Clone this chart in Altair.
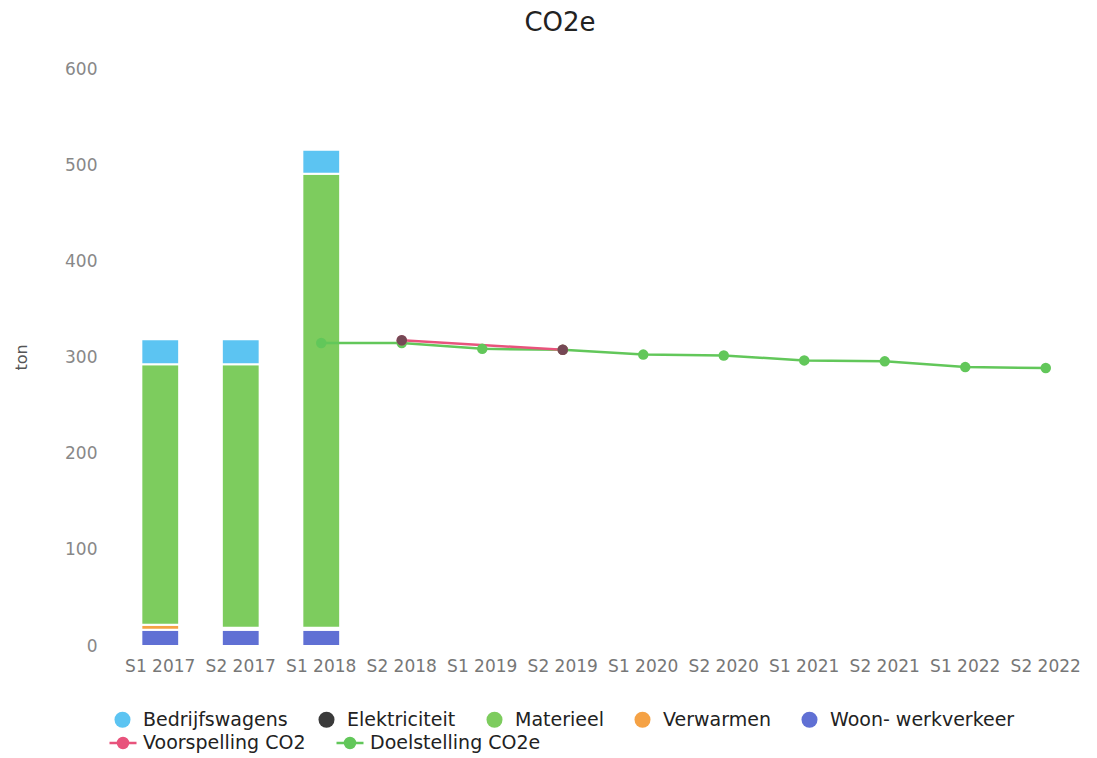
import altair as alt
import pandas as pd

periods = ["S1 2017", "S2 2017", "S1 2018", "S2 2018", "S1 2019", "S2 2019",
           "S1 2020", "S2 2020", "S1 2021", "S2 2021", "S1 2022", "S2 2022"]

# stacked bars (ton)
bar_periods = ["S1 2017", "S2 2017", "S1 2018"]
woon_werkverkeer = [17, 17, 17]
verwarmen = [5, 2, 2]
materieel = [271, 274, 472]
bedrijfswagens = [26, 26, 25]

bron_names = ["Bedrijfswagens", "Elektriciteit", "Materieel", "Verwarmen", "Woon- werkverkeer"]
bron_colors = ["#5cc4f2", "#3a3a3a", "#7dcc5e", "#f5a245", "#6070d4"]

# lines
doel_periods = ["S1 2018", "S2 2018", "S1 2019", "S2 2019", "S1 2020", "S2 2020",
                "S1 2021", "S2 2021", "S1 2022", "S2 2022"]
doel_values = [315, 315, 309, 308, 303, 302, 297, 296, 290, 289]
voor_periods = ["S2 2018", "S2 2019"]
voor_values = [318, 308]

line_names = ["Voorspelling CO2", "Doelstelling CO2e"]
line_colors = ["#e8537c", "#62c75a"]

rows = []
stack_order = {"Woon- werkverkeer": 0, "Verwarmen": 1, "Materieel": 2, "Elektriciteit": 3, "Bedrijfswagens": 4}
for i, p in enumerate(bar_periods):
    for name, vals in [("Woon- werkverkeer", woon_werkverkeer), ("Verwarmen", verwarmen),
                       ("Materieel", materieel), ("Bedrijfswagens", bedrijfswagens)]:
        rows.append({"periode": p, "bron": name, "ton": vals[i], "volgorde": stack_order[name]})
bars_df = pd.DataFrame(rows)

line_rows = []
for p, v in zip(doel_periods, doel_values):
    line_rows.append({"periode": p, "reeks": "Doelstelling CO2e", "ton": v})
for p, v in zip(voor_periods, voor_values):
    line_rows.append({"periode": p, "reeks": "Voorspelling CO2", "ton": v})
lines_df = pd.DataFrame(line_rows)
voor_df = lines_df[lines_df["reeks"] == "Voorspelling CO2"]

x_enc = alt.X("periode:N", sort=periods, scale=alt.Scale(domain=periods, paddingInner=0.53, paddingOuter=0.265),
              axis=alt.Axis(title=None, labelAngle=0, domain=False, ticks=False, labelPadding=12,
                            labelFontSize=17, labelColor="#777", labelFont="DejaVu Sans"))
y_scale = alt.Scale(domain=[0, 600], nice=False)
y_axis = alt.Axis(values=[0, 100, 200, 300, 400, 500, 600], grid=False, domain=False, ticks=False,
                  labelPadding=23, labelFontSize=17, labelColor="#888", labelFont="DejaVu Sans",
                  title="ton", titleFontSize=16, titleFontWeight="normal", titleColor="#555",
                  titleFont="DejaVu Sans", titleX=-91, titleY=288)

bars = alt.Chart(bars_df).mark_bar(stroke="white", strokeWidth=2).encode(
    x=x_enc,
    y=alt.Y("ton:Q", stack="zero", scale=y_scale, axis=y_axis),
    fill=alt.Fill("bron:N", scale=alt.Scale(domain=bron_names, range=bron_colors),
                  legend=alt.Legend(title=None, orient="none", legendX=-7, legendY=641,
                                    direction="horizontal", columns=5, symbolType="circle",
                                    symbolSize=256, symbolStrokeWidth=0, labelFontSize=19,
                                    labelFont="DejaVu Sans", labelColor="#222", labelOffset=11,
                                    labelLimit=0, columnPadding=29)),
    order=alt.Order("volgorde:Q", sort="ascending"),
)

legend_path = "M-1,0L1,0M-0.37,0A0.37,0.37 0 1,0 0.37,0A0.37,0.37 0 1,0 -0.37,0Z"
line_color = alt.Color("reeks:N", scale=alt.Scale(domain=line_names, range=line_colors),
                       legend=alt.Legend(title=None, orient="none", legendX=-12, legendY=659,
                                         direction="horizontal", columns=2, symbolType=legend_path,
                                         symbolSize=729, symbolStrokeWidth=2.5, labelFontSize=19,
                                         labelFont="DejaVu Sans", labelColor="#222", labelOffset=5,
                                         labelLimit=0, columnPadding=25))

lines = alt.Chart(lines_df).mark_line(strokeWidth=2.5).encode(
    x=alt.X("periode:N", sort=periods),
    y=alt.Y("ton:Q"),
    color=line_color,
    detail="reeks:N",
)
points = alt.Chart(lines_df).mark_circle(size=110, opacity=1).encode(
    x=alt.X("periode:N", sort=periods),
    y=alt.Y("ton:Q"),
    color=line_color,
)
dark_points = alt.Chart(voor_df).mark_circle(size=110, opacity=0.7, fill="#444444").encode(
    x=alt.X("periode:N", sort=periods),
    y=alt.Y("ton:Q"),
)

chart = alt.layer(bars, lines, points, dark_points).properties(
    width=966, height=577,
    autosize=alt.AutoSizeParams(type="none"),
    padding={"left": 112, "top": 61, "right": 0, "bottom": 110},
    title=alt.TitleParams("CO2e", fontSize=26, font="DejaVu Sans", fontWeight="normal",
                          color="#222", anchor="middle", offset=24, dx=-43),
).configure_view(stroke=None)

chart.save("out.html", embed_options={"renderer": "svg", "actions": False})
